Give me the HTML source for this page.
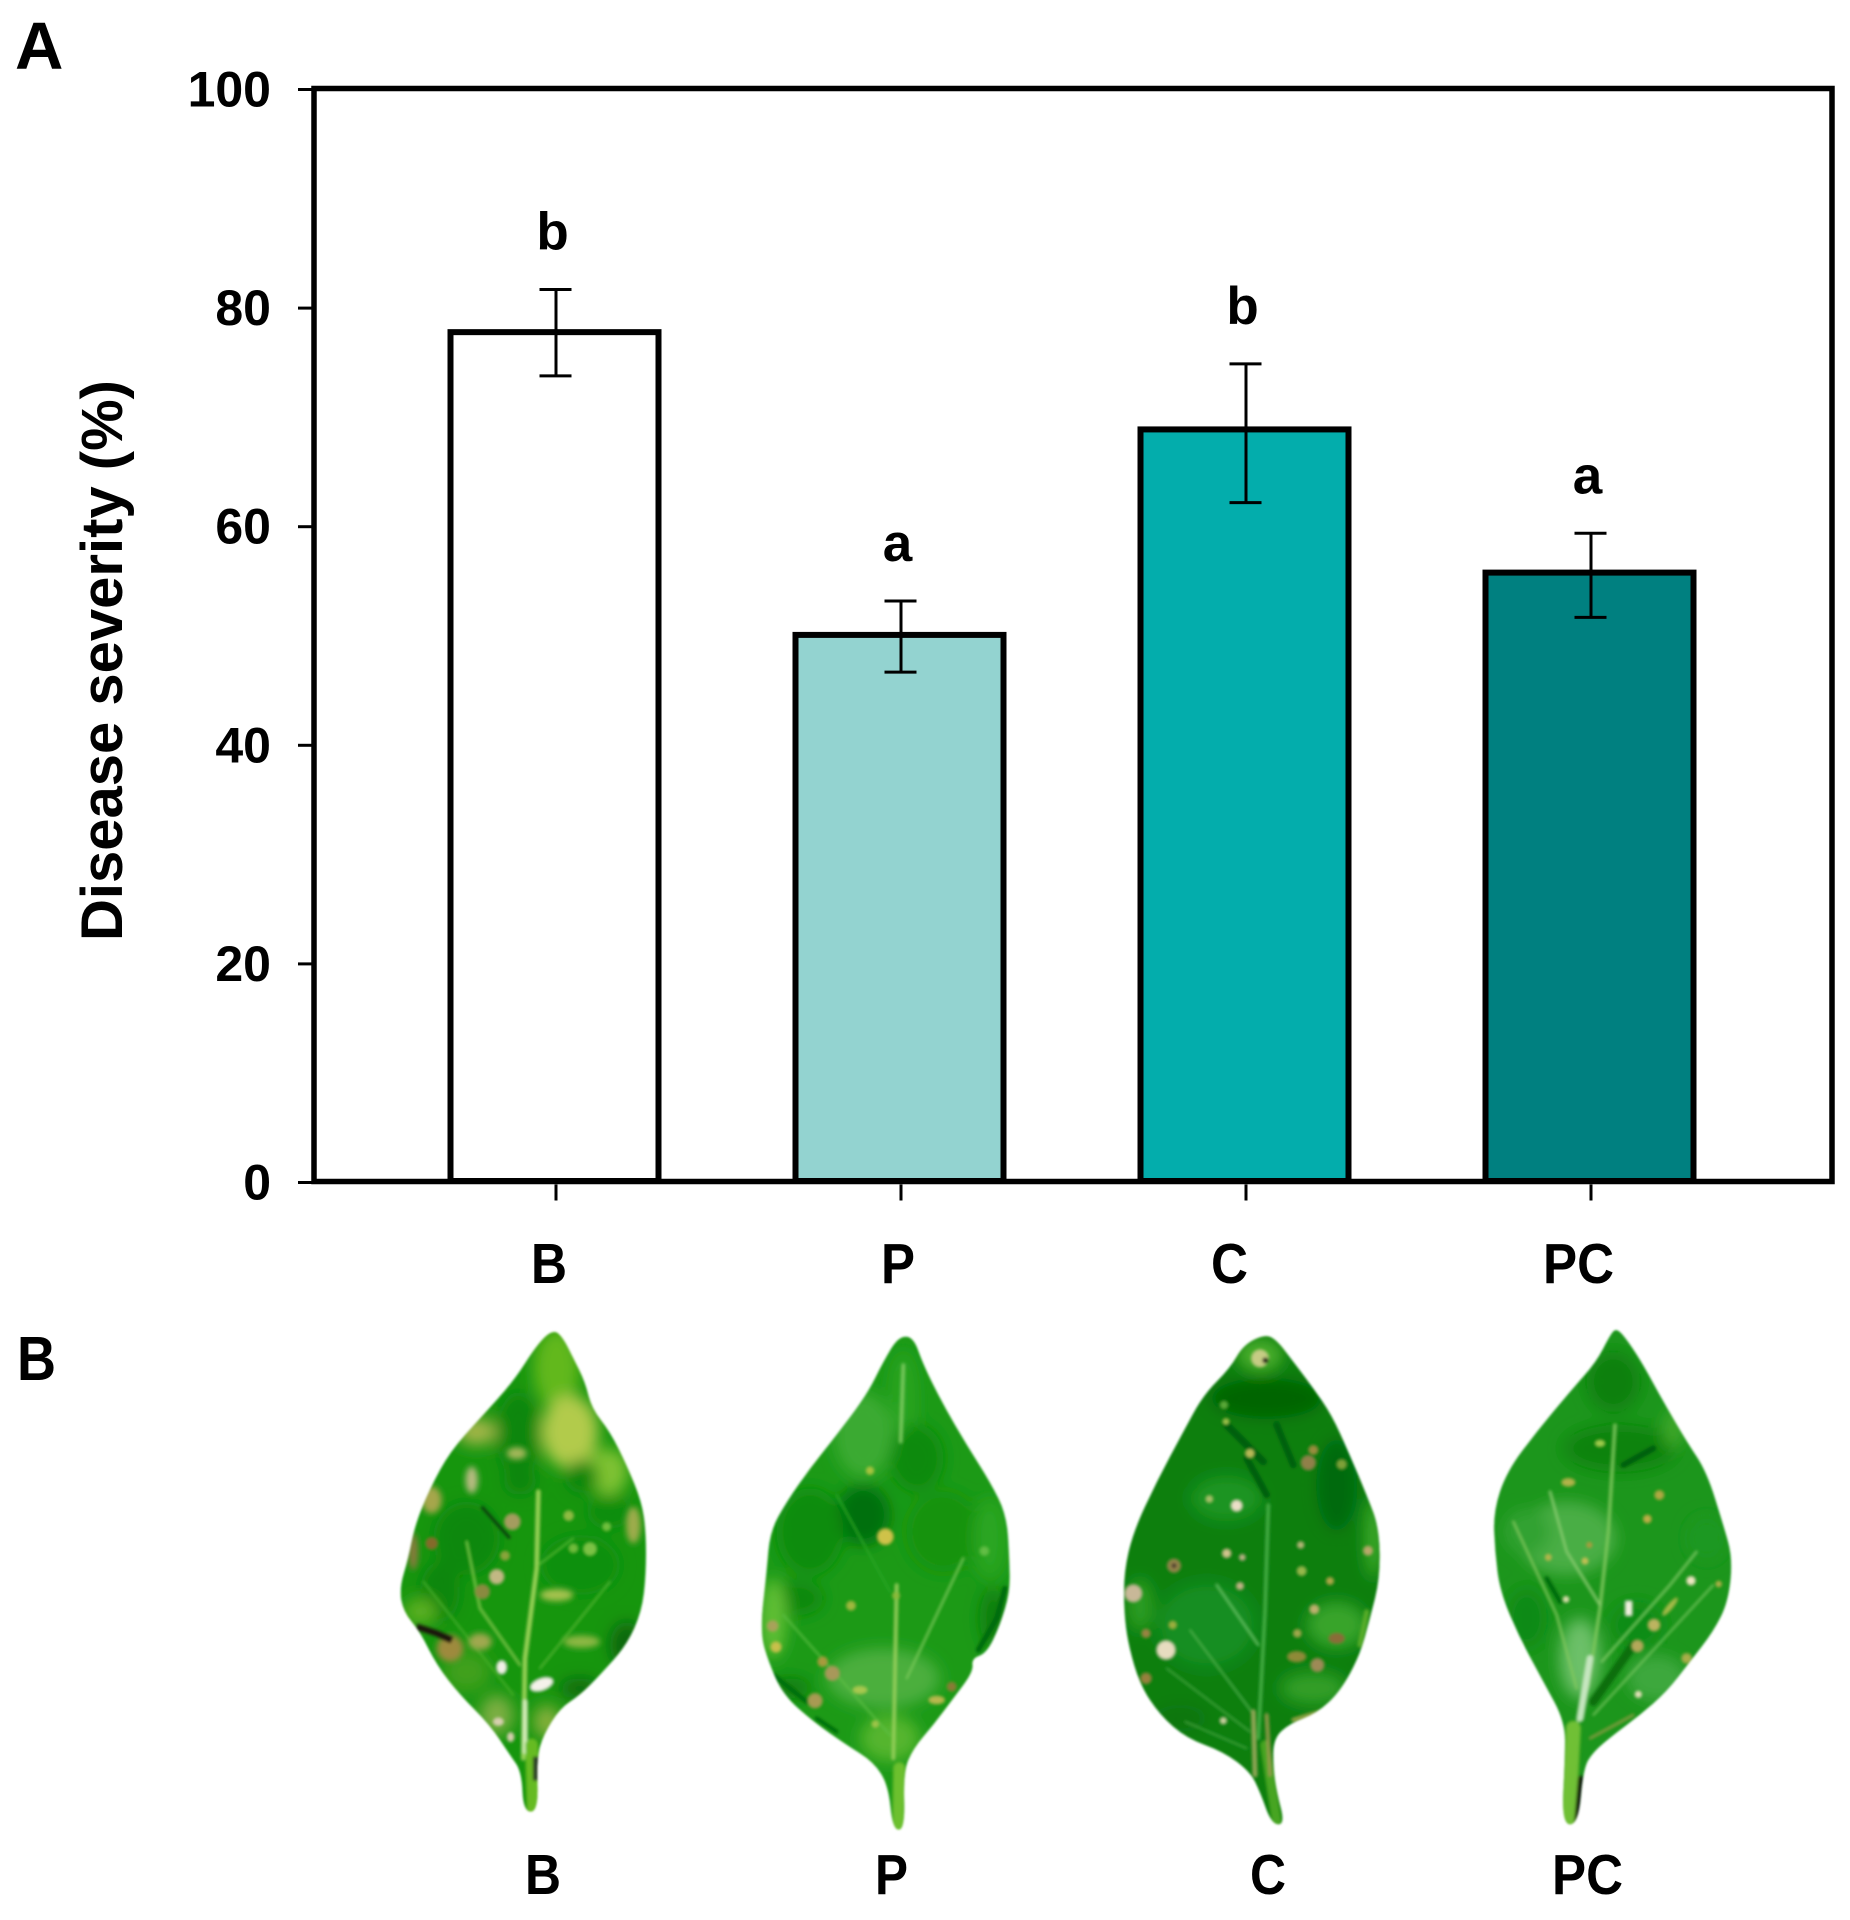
<!DOCTYPE html>
<html lang="en">
<head>
<meta charset="utf-8">
<title>Disease severity chart and leaf photos</title>
<style>
html,body{margin:0;padding:0;background:#fff;}
svg{display:block;}
text{font-family:"Liberation Sans",sans-serif;font-weight:bold;fill:#000;}
</style>
</head>
<body>
<svg id="figure" xmlns="http://www.w3.org/2000/svg" width="1850" height="1920" viewBox="0 0 1850 1920">
<defs>
<filter id="blurL" x="-50%" y="-50%" width="200%" height="200%"><feGaussianBlur stdDeviation="22"/></filter>
<filter id="blurM" x="-50%" y="-50%" width="200%" height="200%"><feGaussianBlur stdDeviation="9"/></filter>
<filter id="blurS" x="-50%" y="-50%" width="200%" height="200%"><feGaussianBlur stdDeviation="3"/></filter>
<filter id="blurEdge" x="-10%" y="-10%" width="120%" height="120%"><feGaussianBlur stdDeviation="3.5"/></filter>
<clipPath id="clipLeaf1"><polygon class="leaf-outline" points="820,12 850,40 880,100 915,170 935,250 990,320 1040,420 1085,530 1098,620 1098,750 1085,860 1040,960 960,1050 900,1110 840,1150 790,1230 770,1300 775,1460 730,1460 725,1340 690,1290 630,1200 540,1110 470,1020 420,920 370,860 358,790 385,700 405,600 450,490 510,380 600,280 700,170 770,60"/></clipPath>
<clipPath id="clipLeaf2"><polygon class="leaf-outline" points="745,35 790,35 820,120 880,240 950,360 1020,470 1070,570 1078,700 1080,800 1050,900 1010,985 965,1000 970,1040 910,1120 850,1200 790,1270 760,1340 765,1514 728,1514 715,1380 670,1310 590,1260 490,1190 400,1110 355,1010 330,920 350,740 360,620 410,530 480,430 560,330 650,210 700,110"/></clipPath>
<clipPath id="clipLeaf3"><polygon class="leaf-outline" points="735,28 770,45 820,110 880,190 935,270 985,380 1040,510 1078,610 1080,760 1050,880 1020,990 960,1100 890,1165 810,1195 760,1240 760,1330 770,1400 795,1498 755,1498 720,1400 690,1340 610,1280 500,1240 420,1170 360,1080 325,960 312,860 312,740 340,620 410,470 490,320 550,210 630,130 670,60"/></clipPath>
<clipPath id="clipLeaf4"><polygon class="leaf-outline" points="710,8 745,50 790,120 850,230 920,350 980,440 1030,600 1058,700 1045,830 1000,920 930,1010 860,1100 780,1170 700,1230 640,1280 610,1330 595,1498 545,1498 555,1300 555,1190 490,1070 420,940 360,800 345,680 340,560 380,440 470,320 570,200 650,110 690,30"/></clipPath>
</defs>

<rect width="1850" height="1920" fill="#fff"/>

<text x="15" y="69" font-size="67">A</text>

<rect x="314" y="88.5" width="1518" height="1093" fill="none" stroke="#000" stroke-width="5.5"/>
<g id="yTicks"></g>
<g id="bars"></g>
<g id="xTicks"></g>
<text font-size="58" textLength="561" lengthAdjust="spacingAndGlyphs" transform="translate(122,941) rotate(-90)">Disease severity (%)</text>

<g font-size="57">
<text x="531" y="1283" font-size="57" textLength="36" lengthAdjust="spacingAndGlyphs">B</text>
<text x="881" y="1283" font-size="57" textLength="34" lengthAdjust="spacingAndGlyphs">P</text>
<text x="1211" y="1283" font-size="57" textLength="37" lengthAdjust="spacingAndGlyphs">C</text>
<text x="1543" y="1283" font-size="57" textLength="71" lengthAdjust="spacingAndGlyphs">PC</text>
</g>

<text x="17" y="1380" font-size="62" textLength="39" lengthAdjust="spacingAndGlyphs">B</text>

<!-- Leaf B -->
<g transform="translate(280,1325) scale(0.33333)">
<g filter="url(#blurEdge)">
<g clip-path="url(#clipLeaf1)">
<rect x="300" y="0" width="850" height="1500" fill="#17960f"/>
<g filter="url(#blurL)">
<ellipse cx="830" cy="130" rx="70" ry="120" fill="#62b81f"/>
<ellipse cx="870" cy="320" rx="85" ry="110" fill="#b2cb4c"/>
<ellipse cx="985" cy="440" rx="60" ry="70" fill="#7fc232"/>
<ellipse cx="715" cy="330" rx="65" ry="130" fill="#0b860b"/>
<ellipse cx="720" cy="470" rx="50" ry="40" fill="#0b860b"/>
<ellipse cx="905" cy="455" rx="50" ry="50" fill="#0a860a"/>
<ellipse cx="590" cy="320" rx="60" ry="40" fill="#a5b648"/>
<ellipse cx="990" cy="560" rx="70" ry="50" fill="#0f8d0e"/>
<ellipse cx="560" cy="640" rx="100" ry="110" fill="#0d880c"/>
<ellipse cx="480" cy="800" rx="60" ry="90" fill="#0d860c"/>
<ellipse cx="900" cy="720" rx="120" ry="90" fill="#11900f"/>
<ellipse cx="420" cy="860" rx="50" ry="40" fill="#5bb020"/>
<ellipse cx="560" cy="1040" rx="70" ry="60" fill="#3fa01b"/>
<ellipse cx="650" cy="1170" rx="50" ry="60" fill="#7daf42"/>
<ellipse cx="1040" cy="960" rx="50" ry="70" fill="#096809"/>
<ellipse cx="900" cy="1090" rx="60" ry="30" fill="#0a6a0b"/>
<ellipse cx="800" cy="1190" rx="40" ry="50" fill="#88b03c"/>
</g>
<g fill="none" stroke-linecap="round" filter="url(#blurS)">
<path d="M775,500 L770,730 L735,1000 L730,1300" stroke="#9ed65a" stroke-width="12"/>
<path d="M735,1130 L735,1280" stroke="#d6edbb" stroke-width="14"/>
<path d="M560,650 L600,850 L720,1020" stroke="#7cc648" stroke-width="7"/>
<path d="M780,1030 L990,770" stroke="#58b934" stroke-width="5"/>
<path d="M775,720 L880,640" stroke="#5cbb38" stroke-width="5"/>
<path d="M430,770 L700,1110" stroke="#4cb22c" stroke-width="5"/>
<path d="M755,1260 L760,1460" stroke="#66bb22" stroke-width="38"/>
</g>
<g filter="url(#blurM)" fill="#a4b85a">
<ellipse cx="575" cy="465" rx="18" ry="40" fill="#b8bb82"/>
<ellipse cx="455" cy="525" rx="30" ry="40" fill="#a6a64c"/>
<ellipse cx="400" cy="680" rx="14" ry="55" fill="#8a7a3c"/>
<ellipse cx="1060" cy="600" rx="22" ry="55" fill="#9dac4c"/>
<ellipse cx="710" cy="385" rx="30" ry="18"/>
<ellipse cx="830" cy="810" rx="50" ry="18" fill="#a6c250"/>
<ellipse cx="905" cy="950" rx="55" ry="18" fill="#8eb844"/>
<ellipse cx="600" cy="950" rx="35" ry="25" fill="#a0a850"/>
<ellipse cx="510" cy="970" rx="40" ry="40" fill="#9e8a3e"/>
</g>
<g filter="url(#blurS)">
<circle cx="697" cy="590" r="24" fill="#a49c5e"/>
<circle cx="650" cy="755" r="22" fill="#c2b884"/>
<circle cx="607" cy="800" r="22" fill="#8a8a40"/>
<circle cx="455" cy="655" r="18" fill="#846a2a"/>
<circle cx="866" cy="572" r="15" fill="#8fbb42"/>
<circle cx="980" cy="605" r="13" fill="#6fc03c"/>
<circle cx="930" cy="672" r="20" fill="#7cc244"/>
<circle cx="675" cy="692" r="14" fill="#8aa43a"/>
<circle cx="880" cy="670" r="14" fill="#6fbb3a"/>
<ellipse cx="665" cy="1027" rx="15" ry="20" fill="#f2f0e8"/>
<ellipse cx="785" cy="1078" rx="36" ry="18" fill="#f4f2ea" transform="rotate(-20 785 1078)"/>
<ellipse cx="655" cy="1190" rx="16" ry="12" fill="#d8d0b0"/>
<ellipse cx="692" cy="1236" rx="10" ry="14" fill="#d8d0b0"/>
<path d="M605,545 L690,640" stroke="#0b3b0b" stroke-width="9" fill="none"/>
<path d="M410,905 L470,925 L515,945" stroke="#1a1408" stroke-width="20" fill="none"/>
<rect x="760" y="1296" width="20" height="70" fill="#2c3a26"/>
</g>
</g>
</g>
</g>

<!-- Leaf P -->
<g transform="translate(650,1325) scale(0.33333)">
<g filter="url(#blurEdge)">
<g clip-path="url(#clipLeaf2)">
<rect x="300" y="0" width="850" height="1530" fill="#1b9a17"/>
<g filter="url(#blurL)">
<ellipse cx="640" cy="330" rx="90" ry="130" fill="#3aaa30"/>
<ellipse cx="760" cy="230" rx="40" ry="150" fill="#2aa424"/>
<ellipse cx="800" cy="400" rx="80" ry="100" fill="#0d8a0c"/>
<ellipse cx="640" cy="570" rx="80" ry="90" fill="#066f07"/>
<ellipse cx="480" cy="620" rx="100" ry="130" fill="#108c0e"/>
<ellipse cx="880" cy="620" rx="110" ry="120" fill="#15930f"/>
<ellipse cx="1020" cy="640" rx="50" ry="120" fill="#2aa620"/>
<ellipse cx="440" cy="820" rx="80" ry="50" fill="#0d880d"/>
<ellipse cx="370" cy="880" rx="40" ry="120" fill="#60bf34"/>
<ellipse cx="700" cy="1060" rx="170" ry="90" fill="#4baf3c"/>
<ellipse cx="1030" cy="880" rx="40" ry="90" fill="#0d7f10"/>
<ellipse cx="420" cy="1090" rx="60" ry="30" fill="#0a7a0c"/>
<ellipse cx="720" cy="1240" rx="90" ry="70" fill="#55b52e"/>
</g>
<g fill="none" stroke-linecap="round" filter="url(#blurS)">
<path d="M760,120 L752,350" stroke="#7ccb60" stroke-width="10"/>
<path d="M740,780 L730,1300" stroke="#97d05c" stroke-width="10"/>
<path d="M560,510 L720,800" stroke="#2aa525" stroke-width="6"/>
<path d="M940,700 L770,1060" stroke="#7ac95a" stroke-width="6"/>
<path d="M400,870 L720,1230" stroke="#5fc044" stroke-width="5"/>
<path d="M748,1330 L745,1514" stroke="#6cc02e" stroke-width="36"/>
<path d="M1065,790 L1040,880 L985,975" stroke="#056b08" stroke-width="16"/>
<path d="M370,1050 L470,1130" stroke="#066e07" stroke-width="14"/>
<path d="M500,1180 L560,1220" stroke="#066e07" stroke-width="12"/>
</g>
<g filter="url(#blurS)">
<circle cx="706" cy="635" r="24" fill="#cfc24a"/>
<circle cx="660" cy="437" r="12" fill="#a7c43e"/>
<circle cx="603" cy="842" r="14" fill="#a0b83e"/>
<circle cx="368" cy="903" r="17" fill="#a8a25a"/>
<circle cx="378" cy="966" r="16" fill="#c8c04c"/>
<circle cx="518" cy="1010" r="15" fill="#a89a3e"/>
<circle cx="547" cy="1045" r="22" fill="#a8985a"/>
<circle cx="495" cy="1127" r="22" fill="#a89a52"/>
<ellipse cx="630" cy="1095" rx="22" ry="12" fill="#a8c850"/>
<ellipse cx="860" cy="1125" rx="24" ry="12" fill="#b8b84e"/>
<circle cx="905" cy="1085" r="14" fill="#8a7a34"/>
<circle cx="676" cy="1197" r="11" fill="#9ec548"/>
<circle cx="1003" cy="678" r="14" fill="#62be44"/>
<circle cx="738" cy="812" r="11" fill="#8ab93a"/>
</g>
</g>
</g>
</g>

<!-- Leaf C -->
<g transform="translate(1020,1325) scale(0.33333)">
<g filter="url(#blurEdge)">
<g clip-path="url(#clipLeaf3)">
<rect x="300" y="0" width="850" height="1510" fill="#0c7f10"/>
<g filter="url(#blurL)">
<ellipse cx="720" cy="90" rx="70" ry="50" fill="#4aae2c"/>
<ellipse cx="740" cy="220" rx="170" ry="60" fill="#056506"/>
<ellipse cx="620" cy="520" rx="110" ry="70" fill="#1c9420"/>
<ellipse cx="950" cy="480" rx="60" ry="140" fill="#066a08"/>
<ellipse cx="1060" cy="640" rx="24" ry="120" fill="#43ad2a"/>
<ellipse cx="950" cy="900" rx="90" ry="70" fill="#37a42b"/>
<ellipse cx="880" cy="1090" rx="100" ry="50" fill="#309e28"/>
<ellipse cx="560" cy="900" rx="150" ry="130" fill="#198e20"/>
<ellipse cx="480" cy="1180" rx="80" ry="40" fill="#0a760e"/>
<ellipse cx="360" cy="840" rx="40" ry="80" fill="#2a9c24"/>
</g>
<g fill="none" stroke-linecap="round" filter="url(#blurS)">
<path d="M620,300 L730,410" stroke="#055f07" stroke-width="22"/>
<path d="M680,400 L740,510" stroke="#055f07" stroke-width="20"/>
<path d="M770,300 L820,420" stroke="#056007" stroke-width="20"/>
<path d="M745,540 L735,860 L715,1240" stroke="#4cb348" stroke-width="9"/>
<path d="M590,780 L715,960" stroke="#64bf62" stroke-width="7"/>
<path d="M510,915 L695,1160" stroke="#56b450" stroke-width="5"/>
<path d="M440,1030 L690,1220" stroke="#52ae4a" stroke-width="4"/>
<path d="M495,1190 L680,1270" stroke="#52ae4a" stroke-width="4"/>
<path d="M735,1260 L770,1490" stroke="#46a520" stroke-width="28"/>
<path d="M700,1160 L705,1350" stroke="#9aa95c" stroke-width="12"/>
<path d="M740,1170 L750,1350" stroke="#95994c" stroke-width="10"/>
<path d="M820,1185 L900,1160" stroke="#a4a84c" stroke-width="10"/>
<path d="M1040,860 L1020,960" stroke="#5aae2c" stroke-width="14"/>
</g>
<g filter="url(#blurS)">
<circle cx="720" cy="100" r="26" fill="#c6cc84"/>
<circle cx="736" cy="106" r="9" fill="#15100c"/>
<circle cx="612" cy="240" r="12" fill="#5aa838"/>
<circle cx="618" cy="290" r="10" fill="#9cc04a"/>
<circle cx="690" cy="385" r="14" fill="#b8b856"/>
<circle cx="865" cy="413" r="22" fill="#90804a"/>
<circle cx="880" cy="375" r="14" fill="#9a8c3c"/>
<circle cx="965" cy="418" r="15" fill="#7ea038"/>
<circle cx="650" cy="542" r="17" fill="#ecdfc8"/>
<circle cx="568" cy="522" r="11" fill="#a8c06a"/>
<circle cx="620" cy="685" r="13" fill="#d3c48e"/>
<circle cx="667" cy="697" r="9" fill="#c0b48a"/>
<circle cx="462" cy="722" r="20" fill="#96844c"/>
<circle cx="462" cy="722" r="8" fill="#4a3d2e"/>
<circle cx="660" cy="783" r="11" fill="#c4b486"/>
<circle cx="845" cy="738" r="14" fill="#98b84c"/>
<circle cx="842" cy="660" r="10" fill="#b8b878"/>
<circle cx="930" cy="768" r="11" fill="#b0a848"/>
<circle cx="883" cy="853" r="14" fill="#bfb06e"/>
<circle cx="1044" cy="677" r="14" fill="#b8a86a"/>
<circle cx="832" cy="925" r="12" fill="#a0a84c"/>
<circle cx="458" cy="900" r="12" fill="#9cae3c"/>
<circle cx="378" cy="925" r="13" fill="#9a8442"/>
<circle cx="438" cy="975" r="28" fill="#e7dcc0"/>
<circle cx="378" cy="1060" r="16" fill="#98803c"/>
<ellipse cx="340" cy="805" rx="26" ry="26" fill="#c8b898"/>
<ellipse cx="950" cy="940" rx="24" ry="16" fill="#8a6c38"/>
<circle cx="892" cy="1020" r="20" fill="#9e8a56"/>
<ellipse cx="830" cy="995" rx="28" ry="16" fill="#8f8a38"/>
<circle cx="610" cy="1187" r="10" fill="#ccd0a0"/>
</g>
</g>
</g>
</g>

<!-- Leaf PC -->
<g transform="translate(1380,1325) scale(0.33333)">
<g filter="url(#blurEdge)">
<g clip-path="url(#clipLeaf4)">
<rect x="300" y="0" width="850" height="1510" fill="#1c961c"/>
<g filter="url(#blurL)">
<ellipse cx="700" cy="170" rx="80" ry="90" fill="#0c800e"/>
<ellipse cx="720" cy="370" rx="170" ry="70" fill="#0e830f"/>
<ellipse cx="880" cy="310" rx="30" ry="60" fill="#3fa92a"/>
<ellipse cx="560" cy="640" rx="150" ry="110" fill="#48ae44"/>
<ellipse cx="600" cy="1000" rx="60" ry="120" fill="#6cc068"/>
<ellipse cx="440" cy="620" rx="70" ry="70" fill="#30a232"/>
<ellipse cx="440" cy="880" rx="60" ry="90" fill="#108a12"/>
<ellipse cx="830" cy="1060" rx="90" ry="70" fill="#3ca83c"/>
<ellipse cx="980" cy="640" rx="60" ry="70" fill="#1d9820"/>
<ellipse cx="770" cy="900" rx="80" ry="70" fill="#0f8c12"/>
</g>
<g fill="none" stroke-linecap="round" filter="url(#blurS)">
<path d="M705,300 L685,620 L660,850 L625,1080 L590,1200" stroke="#7cc75c" stroke-width="9"/>
<path d="M630,1000 L600,1180" stroke="#c6e6c0" stroke-width="20"/>
<path d="M510,500 L560,680 L660,840" stroke="#88cc70" stroke-width="7"/>
<path d="M400,590 L530,870 L590,1090" stroke="#84c95e" stroke-width="6"/>
<path d="M665,1010 L870,780 L950,680" stroke="#7fcb66" stroke-width="6"/>
<path d="M640,1170 L1000,780" stroke="#8ad26e" stroke-width="4"/>
<path d="M500,760 L540,830" stroke="#066a08" stroke-width="14"/>
<path d="M730,420 L820,370" stroke="#055f07" stroke-width="18"/>
<path d="M640,1130 L760,960" stroke="#086e0a" stroke-width="26"/>
<path d="M580,1210 L565,1498" stroke="#70c034" stroke-width="44"/>
<path d="M602,1360 L590,1498" stroke="#0a0d08" stroke-width="16"/>
<path d="M630,1240 L760,1170" stroke="#9a9c48" stroke-width="6"/>
</g>
<g filter="url(#blurS)">
<ellipse cx="565" cy="472" rx="20" ry="12" fill="#b2b44a"/>
<ellipse cx="660" cy="355" rx="15" ry="10" fill="#a0cc4c"/>
<circle cx="838" cy="510" r="14" fill="#b0a842"/>
<circle cx="802" cy="582" r="12" fill="#c0ae46"/>
<circle cx="505" cy="697" r="10" fill="#b6b64c"/>
<circle cx="615" cy="708" r="10" fill="#c4c054"/>
<circle cx="628" cy="660" r="9" fill="#a89c3c"/>
<circle cx="933" cy="767" r="13" fill="#f0e8c4"/>
<rect x="736" y="828" width="20" height="44" fill="#f3f2e2"/>
<circle cx="558" cy="823" r="9" fill="#e4e4b4"/>
<circle cx="822" cy="900" r="18" fill="#bdb460"/>
<circle cx="772" cy="963" r="18" fill="#b4a85a"/>
<ellipse cx="870" cy="845" rx="34" ry="8" fill="#a8bc48" transform="rotate(-50 870 845)"/>
<circle cx="775" cy="1108" r="10" fill="#e8e4bc"/>
<circle cx="920" cy="1000" r="15" fill="#a8ae48"/>
<circle cx="1016" cy="777" r="9" fill="#b0b048"/>
</g>
</g>
</g>
</g>

<g>
<text x="525" y="1894" font-size="57" textLength="36" lengthAdjust="spacingAndGlyphs">B</text>
<text x="875" y="1894" font-size="57" textLength="33" lengthAdjust="spacingAndGlyphs">P</text>
<text x="1250" y="1894" font-size="57" textLength="36" lengthAdjust="spacingAndGlyphs">C</text>
<text x="1552" y="1894" font-size="57" textLength="71" lengthAdjust="spacingAndGlyphs">PC</text>
</g>
</svg>

<script>
const categories = ['B', 'P', 'C', 'PC'];
const severity = [77.8, 50.1, 68.9, 55.8];
const errorUpper = [81.7, 53.2, 74.9, 59.4];
const errorLower = [73.8, 46.7, 62.2, 51.7];
const significance = ['b', 'a', 'b', 'a'];
const barFills = ['#ffffff', '#93d3d0', '#03adac', '#008080'];
const yTickValues = [0, 20, 40, 60, 80, 100];

const NS = 'http://www.w3.org/2000/svg';
const Y_ZERO = 1182.5;
const Y_PER_UNIT = 10.93;
const X_FIRST = 554.5;
const X_STEP = 345;
const BAR_WIDTH = 208;
const CAP_HALF = 16;

function yScale(v) { return Y_ZERO - v * Y_PER_UNIT; }
function xScale(i) { return X_FIRST + i * X_STEP; }
function make(tag, attrs) {
  const el = document.createElementNS(NS, tag);
  for (const k in attrs) el.setAttribute(k, attrs[k]);
  return el;
}

const yGroup = document.getElementById('yTicks');
yTickValues.forEach(function (v) {
  const tick = make('line', { x1: 298, x2: 314, y1: yScale(v), y2: yScale(v), stroke: '#000', 'stroke-width': 3 });
  
  
  yGroup.appendChild(tick);
  const label = make('text', { x: 271, y: yScale(v) + 17, 'text-anchor': 'end', 'font-size': 50 });
  
  
  label.textContent = String(v);
  yGroup.appendChild(label);
});

const barGroup = document.getElementById('bars');
const xGroup = document.getElementById('xTicks');
categories.forEach(function (cat, i) {
  const cx = xScale(i);
  const bar = make('rect', {
    x: cx - BAR_WIDTH / 2,
    y: yScale(severity[i]),
    width: BAR_WIDTH,
    height: Y_ZERO - yScale(severity[i]) - 1.5,
    fill: barFills[i],
    stroke: '#000',
    'stroke-width': 6
  });
  
  
  barGroup.appendChild(bar);

  const stem = make('line', { x1: cx + 1.5, x2: cx + 1.5, y1: yScale(errorUpper[i]), y2: yScale(errorLower[i]), stroke: '#000', 'stroke-width': 3 });
  
  
  barGroup.appendChild(stem);

  const capTop = make('line', { x1: cx + 1 - CAP_HALF, x2: cx + 1 + CAP_HALF, y1: yScale(errorUpper[i]), y2: yScale(errorUpper[i]), stroke: '#000', 'stroke-width': 3 });
  
  
  barGroup.appendChild(capTop);

  const capBottom = make('line', { x1: cx + 1 - CAP_HALF, x2: cx + 1 + CAP_HALF, y1: yScale(errorLower[i]), y2: yScale(errorLower[i]), stroke: '#000', 'stroke-width': 3 });
  
  
  barGroup.appendChild(capBottom);

  const letter = make('text', { x: cx - 2, y: yScale(errorUpper[i]) - 40, 'text-anchor': 'middle', 'font-size': 53 });
  
  
  letter.textContent = significance[i];
  barGroup.appendChild(letter);

  const tick = make('line', { x1: cx + 1.5, x2: cx + 1.5, y1: Y_ZERO + 2, y2: Y_ZERO + 18, stroke: '#000', 'stroke-width': 3 });
  
  
  xGroup.appendChild(tick);
});

// Round off the corners of each leaf outline so the silhouettes read as organic shapes.
document.querySelectorAll('polygon.leaf-outline').forEach(function (poly) {
  const nums = poly.getAttribute('points').trim().split(/[\s,]+/).map(Number);
  const pts = [];
  for (let i = 0; i < nums.length; i += 2) pts.push([nums[i], nums[i + 1]]);
  let d = '';
  pts.forEach(function (p, i) {
    const next = pts[(i + 1) % pts.length];
    const mx = (p[0] + next[0]) / 2;
    const my = (p[1] + next[1]) / 2;
    if (i === 0) d += 'M' + mx + ',' + my;
    else d += ' Q' + p[0] + ',' + p[1] + ' ' + mx + ',' + my;
  });
  d += ' Q' + pts[0][0] + ',' + pts[0][1] + ' ' + (pts[0][0] + pts[1][0]) / 2 + ',' + (pts[0][1] + pts[1][1]) / 2 + 'Z';
  const path = document.createElementNS(NS, 'path');
  path.setAttribute('d', d);
  poly.parentNode.replaceChild(path, poly);
});
</script>
</body>
</html>
